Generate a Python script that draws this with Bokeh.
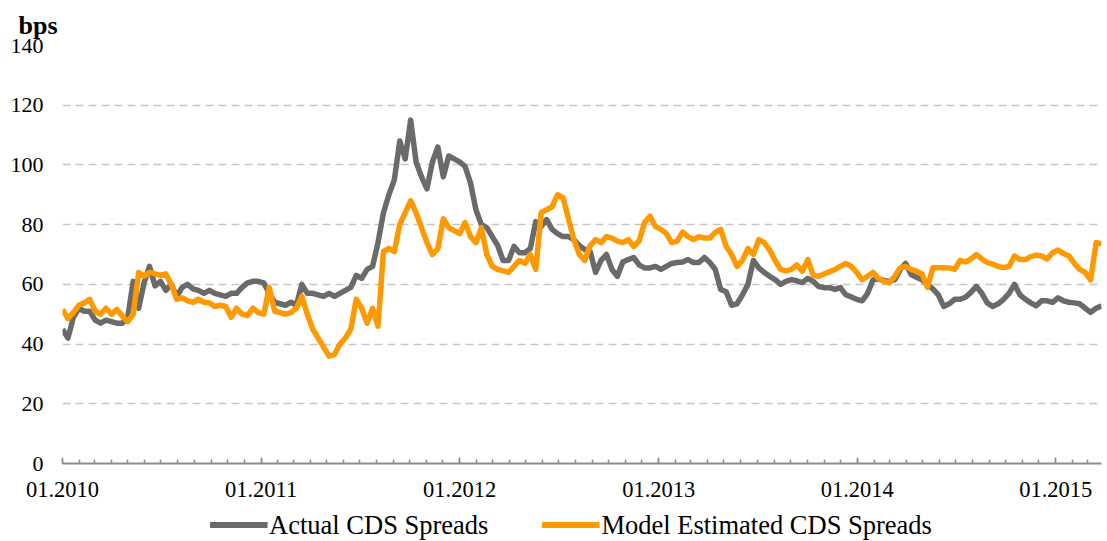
import pandas as pd
from bokeh.plotting import figure
from bokeh.layouts import column
from bokeh.models import (Range1d, FixedTicker, DatetimeTickFormatter, Legend,
                          LegendItem, ColumnDataSource)
from bokeh.embed import file_html
from bokeh.resources import INLINE

# ---- data (bps), sampled every 10 days from 2010-01-01 ----
dates = pd.date_range("2010-01-01", periods=192, freq="10D")

actual = [
    45, 42, 49, 52, 51, 51, 48, 47, 48, 47.5, 47, 47, 49, 61, 52, 60.6, 66, 59.5, 61, 58,
    60, 56, 59, 60, 58.5, 58, 57, 58, 57, 56.5, 56, 57, 57, 59, 60.5, 61, 61, 60.5, 57, 54,
    53.5, 53, 54, 53, 60, 57, 57, 56.5, 56, 57, 56, 57, 58, 59, 63, 62, 65, 66, 74, 84,
    90, 95, 108, 102, 115, 101, 96, 92, 101, 106, 96, 103, 102, 101, 99.5, 94, 85, 80, 79, 76,
    73, 68, 68, 72.7, 70.6, 70.6, 72, 81, 79.4, 81.7, 78.4, 77, 76, 76, 75, 73, 71.7, 71, 64, 68,
    70, 65, 62.7, 67.5, 68.3, 69, 66.5, 65.5, 65.5, 66, 65, 66, 67, 67.3, 67.5, 68.3, 67.3, 67.3, 69, 67.3,
    65, 58.3, 57.5, 53, 53.5, 56.5, 60, 68, 65.5, 64, 62.7, 61.6, 60, 61, 61.6, 61.2, 60.6, 62, 61, 59.3,
    58.9, 58.9, 58.3, 58.9, 56.5, 55.8, 55, 54.5, 57, 61.5, 61.8, 61.3, 61, 61.6, 65, 67, 63.3, 62.4, 61.5, 60,
    58.5, 56.5, 52.6, 53.5, 55, 55, 55.7, 57.3, 59.3, 57, 53.8, 52.6, 53.5, 55, 57, 60, 56.5, 55, 53.8, 52.8,
    54.5, 54.5, 54, 55.5, 54.5, 54, 53.8, 53.5, 52, 50.6, 52, 52.8,
]

model = [
    51.6, 48.5, 50.5, 53, 53.8, 55, 51, 50, 52, 50, 51.6, 49.3, 47.5, 50, 64, 62.7, 64, 63.5, 63, 63.5,
    60, 55, 55.5, 54.5, 54, 55, 54, 53.8, 52.6, 53, 52.6, 49, 52, 50, 49.5, 52, 50.5, 50, 59, 51,
    50.5, 50, 50.5, 52, 56, 50, 45, 42, 39, 36, 36.5, 40, 42, 45, 55, 52, 47, 52, 46, 71,
    72, 71, 80, 84, 88, 84, 79, 74, 70, 72, 82, 79, 78, 77, 80.7, 76, 74, 79, 70, 66,
    65, 64.5, 64, 66, 68, 67, 70, 65, 84, 85, 86, 90, 89, 82, 75, 70, 68, 73, 75, 74,
    76, 75.5, 74.5, 74, 75, 72.7, 74.5, 80.7, 82.8, 79.4, 78.4, 77, 74, 74.5, 77.5, 76, 75, 76, 75.5, 75.5,
    77.4, 78.4, 72.7, 70, 66, 68, 72, 70, 75, 74, 71.5, 68, 65, 64.5, 65, 66.5, 64.4, 68.3, 63, 62.7,
    63.5, 64.2, 65, 66, 67, 66, 64, 61.6, 62.7, 64, 62, 61, 60.5, 62.7, 65.6, 66, 65, 64.4, 63.5, 59,
    65.6, 65.6, 65.6, 65.5, 65, 68, 67.5, 68.5, 70, 68.5, 67.3, 66.8, 66, 65.6, 66, 69.5, 68.3, 68.3, 69.3, 69.8,
    69.5, 68.5, 70.6, 71.5, 70.3, 69.5, 67, 65, 64, 61.5, 74, 73.5,
]

series_names = ["Actual CDS Spreads", "Model Estimated CDS Spreads"]
y_ticks = [0, 20, 40, 60, 80, 100, 120, 140]
unit_label = "bps"

# ---- styling ----
FONT = "Liberation Serif"
GRAY = "#6a6a6a"
ORANGE = "#ff9900"
LW = 5.5

src = ColumnDataSource(dict(date=dates, actual=actual, model=model))

p = figure(width=1102, height=509, x_axis_type="datetime",
           output_backend="svg", toolbar_location=None,
           min_border_left=62, min_border_right=1, min_border_top=45,
           min_border_bottom=46)
p.x_range = Range1d(dates[0], dates[-1])
p.y_range = Range1d(0, 140)
p.outline_line_color = None
p.background_fill_color = "white"

# unit label as title
p.title.text = unit_label
p.title.text_font = FONT
p.title.text_font_style = "bold"
p.title.text_font_size = "26px"
p.title.text_color = "black"
p.title.align = "left"
p.title.vertical_align = "middle"
p.title.offset = -44
p.title.standoff = 10

# grid
p.xgrid.grid_line_color = None
p.ygrid.grid_line_color = "#c6c6c6"
p.ygrid.grid_line_width = 1.6
p.ygrid.grid_line_dash = "8 5"

# y axis
p.yaxis.ticker = FixedTicker(ticks=y_ticks)
p.yaxis.axis_line_color = None
p.yaxis.major_tick_line_color = None
p.yaxis.minor_tick_line_color = None
p.yaxis.major_label_text_font = FONT
p.yaxis.major_label_text_font_size = "22px"
p.yaxis.major_label_text_color = "black"
p.yaxis.major_label_standoff = 13

# x axis
years = pd.date_range("2010-01-01", "2015-01-01", freq="YS")
months = pd.date_range("2010-01-01", dates[-1], freq="MS")
to_ms = lambda idx: [int(t.value // 10**6) for t in idx]
p.xaxis.ticker = FixedTicker(ticks=to_ms(years), minor_ticks=to_ms(months))
p.xaxis.formatter = DatetimeTickFormatter(years="%m.%Y", months="%m.%Y", days="%m.%Y")
p.xaxis.axis_line_color = "#8c8c8c"
p.xaxis.axis_line_width = 2
p.xaxis.major_tick_line_color = "#8c8c8c"
p.xaxis.major_tick_line_width = 1.5
p.xaxis.major_tick_in = 6
p.xaxis.major_tick_out = 0
p.xaxis.minor_tick_line_color = "#8c8c8c"
p.xaxis.minor_tick_line_width = 1.5
p.xaxis.minor_tick_in = 4
p.xaxis.minor_tick_out = 0
p.xaxis.major_label_text_font = FONT
p.xaxis.major_label_text_font_size = "22.5px"
p.xaxis.major_label_text_color = "black"
p.xaxis.major_label_standoff = 18

# lines
p.line("date", "actual", source=src, line_color=GRAY, line_width=LW, line_join="round")
p.line("date", "model", source=src, line_color=ORANGE, line_width=LW, line_join="round")

# ---- legend strip below the chart (same data, kept out of view) ----
pl = figure(width=1080, height=31, output_backend="svg", toolbar_location=None,
            x_axis_location=None, y_axis_location=None,
            min_border_left=0, min_border_right=0, min_border_top=0,
            min_border_bottom=0)
pl.x_range = Range1d(0, 1)
pl.y_range = Range1d(0, 1)
pl.outline_line_color = None
pl.xgrid.grid_line_color = None
pl.ygrid.grid_line_color = None
g1 = pl.line("date", "actual", source=src, line_color=GRAY, line_width=6)
g2 = pl.line("date", "model", source=src, line_color=ORANGE, line_width=6)
legend = Legend(items=[LegendItem(label=series_names[0], renderers=[g1]),
                       LegendItem(label=series_names[1], renderers=[g2])],
                orientation="horizontal", location="center",
                glyph_width=58, glyph_height=20, label_standoff=2, spacing=53,
                padding=0, margin=0,
                label_text_font=FONT, label_text_font_size="26.5px",
                label_text_color="black",
                border_line_alpha=0, background_fill_alpha=0)
pl.add_layout(legend)

layout = column(p, pl, spacing=0)
open("out.html", "w").write(file_html(layout, INLINE))
